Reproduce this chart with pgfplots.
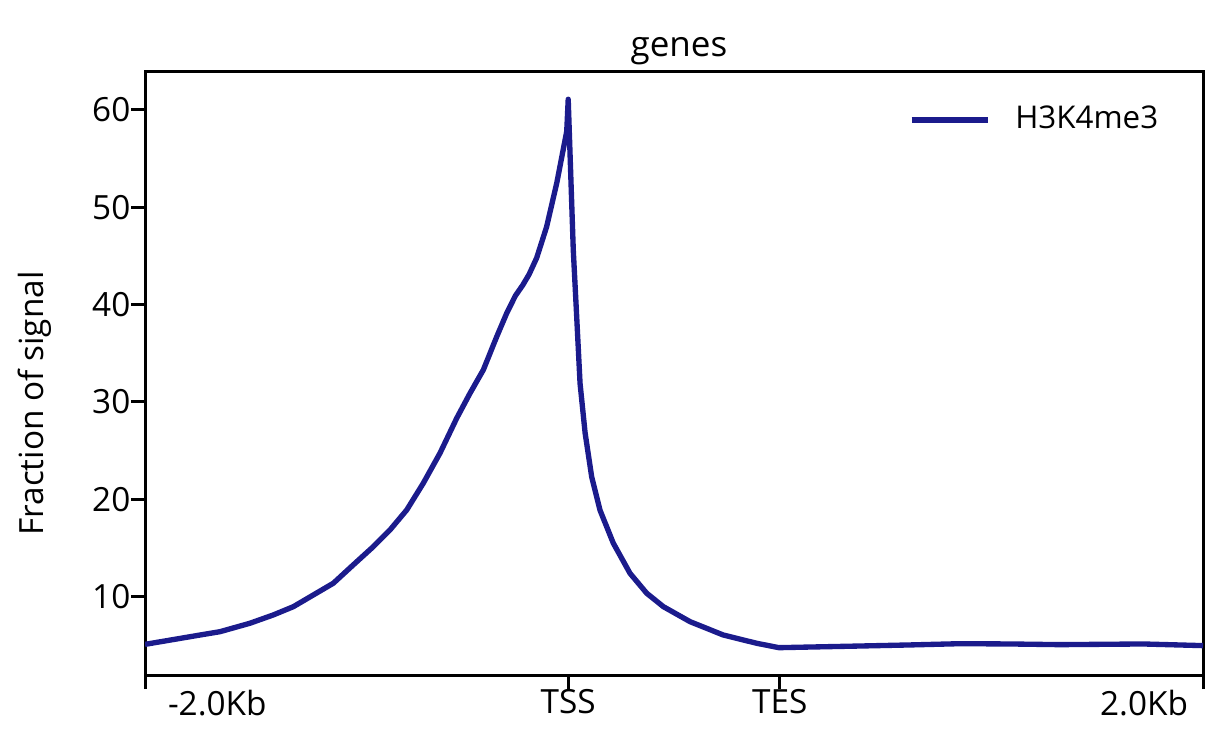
\documentclass[border=0pt]{standalone}
\usepackage{fontspec}
\setmainfont{Open Sans}
\usepackage{pgfplots}
\pgfplotsset{compat=1.18}
\definecolor{lc}{RGB}{27,27,140}
\pgfplotstableread{
x y
-2000 5.10
-1740 6.06
-1646 6.40
-1504 7.27
-1394 8.12
-1299 8.97
-1110 11.38
-1016 13.26
-921 15.14
-842 16.86
-763 18.91
-685 21.65
-606 24.74
-527 28.33
-464 30.9
-401 33.3
-338 36.7
-291 39.1
-250 40.9
-215 42.0
-185 43.1
-149 44.8
-102 48.0
-54 52.5
-7 57.8
0 61.1
24 45.6
40 38.8
56 31.9
80 26.8
111 22.3
150 18.9
213 15.5
292 12.4
371 10.35
450 8.97
576 7.43
733 6.06
891 5.21
996 4.76
1379 4.93
1615 5.04
1852 5.17
2088 5.14
2324 5.07
2717 5.14
3000 4.97
}\h
\begin{document}
\begin{tikzpicture}
\begin{axis}[
  scale only axis, width=317.4pt, height=181.2pt,
  xmin=-2000, xmax=3000, ymin=1.95, ymax=64.0,
  axis line style={line width=0.9pt},
  every tick/.style={black, line width=0.9pt},
  major tick length=4.2pt,
  tick align=outside,
  xtick pos=lower, ytick pos=left,
  xtick={-2000,0,1000,3000},
  xticklabels={\makebox[0pt][l]{\hspace{6.9pt}-2.0Kb},TSS,TES,\makebox[0pt][r]{2.0Kb\hspace{4.5pt}}},
  ytick={10,20,30,40,50,60},
  /pgf/number format/assume math mode=true,
  tick label style={font=\fontsize{10}{12}\selectfont},
  xticklabel style={inner sep=0pt, anchor=north},
  yticklabel style={inner sep=0pt, anchor=east},
  title={genes},
  title style={font=\fontsize{10.5}{12}\selectfont, at={(axis description cs:0.5047,1)}, anchor=base, yshift=-1.7pt},
  ylabel={Fraction of signal},
  ylabel style={font=\fontsize{10}{12}\selectfont, at={(axis description cs:-0.0955,0.4495)}, anchor=base, rotate=0},
  legend style={draw=none, fill=none, at={(axis description cs:0.7221,0.9189)}, anchor=west,
    inner sep=0pt, outer sep=0pt, nodes={inner sep=0pt}, font=\fontsize{9.4}{12}\selectfont,
    /tikz/every odd column/.append style={column sep=7.5pt}},
  legend image code/.code={\draw[#1] (0pt,0pt) -- (22.8pt,0pt);},
]
\addplot[color=lc, line width=1.6pt, line join=round] table[x=x,y=y] {\h};
\addlegendentry{H3K4me3}
\coordinate (bl) at (rel axis cs:0,0);
\coordinate (tr) at (rel axis cs:1,1);
\end{axis}
\pgfresetboundingbox
\path ([xshift=-43.5pt,yshift=-18pt]bl) rectangle ([xshift=4.2pt,yshift=21.3pt]tr);
\end{tikzpicture}
\end{document}
